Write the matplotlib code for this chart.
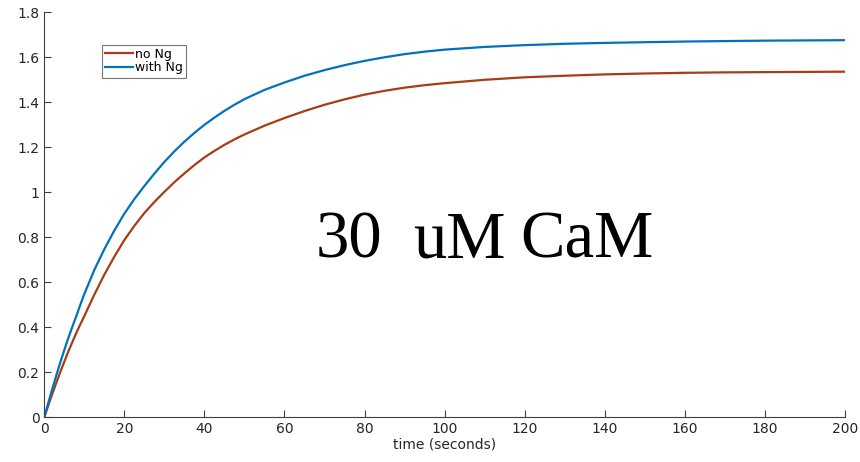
import numpy as np
import matplotlib
matplotlib.use('Agg')
import matplotlib.pyplot as plt

# values
t = [0, 1, 2, 3, 4, 5, 6, 7, 8, 9, 10, 12.5, 15, 17.5, 20, 22.5, 25, 27.5,
     30, 32.5, 35, 37.5, 40, 42.5, 45, 47.5, 50, 55, 60, 65, 70, 75, 80,
     85, 90, 95, 100, 110, 120, 130, 140, 150, 160, 170, 180, 190, 200]
no_ng = [0, 0.053, 0.104, 0.153, 0.201, 0.247, 0.292, 0.334, 0.375, 0.413,
         0.45, 0.545, 0.634, 0.714, 0.788, 0.851, 0.908, 0.957, 1.002,
         1.045, 1.084, 1.121, 1.155, 1.184, 1.211, 1.235, 1.257, 1.296,
         1.330, 1.361, 1.389, 1.413, 1.434, 1.451, 1.465, 1.476, 1.485,
         1.500, 1.511, 1.518, 1.524, 1.528, 1.531, 1.533, 1.534, 1.535, 1.536]
with_ng = [0, 0.064, 0.126, 0.186, 0.244, 0.299, 0.352, 0.402, 0.45, 0.500,
           0.548, 0.655, 0.747, 0.830, 0.905, 0.970, 1.028, 1.083, 1.135,
           1.182, 1.225, 1.264, 1.300, 1.332, 1.362, 1.389, 1.414, 1.455,
           1.488, 1.518, 1.543, 1.565, 1.584, 1.600, 1.614, 1.625, 1.634,
           1.646, 1.654, 1.660, 1.664, 1.667, 1.670, 1.672, 1.674, 1.675, 1.676]
xticks = np.arange(0, 201, 20)
yticks = np.arange(0, 1.81, 0.2)

axcol = '#404040'

fig = plt.figure(figsize=(8.6, 4.62), dpi=100)
ax = fig.add_axes([0.0515, 0.0968, 0.9310, 0.8766])

ax.plot(t, no_ng, color='#A83C14', lw=1.6, label='no Ng')
ax.plot(t, with_ng, color='#0072BD', lw=1.6, label='with Ng')

ax.set_xlim(0, 200)
ax.set_ylim(0, 1.8)
ax.set_xticks(xticks)
ax.set_yticks(yticks)
ax.set_yticklabels(['0', '0.2', '0.4', '0.6', '0.8', '1', '1.2', '1.4', '1.6', '1.8'])
ax.spines['top'].set_visible(False)
ax.spines['right'].set_visible(False)
for s in ['left', 'bottom']:
    ax.spines[s].set_color(axcol)
    ax.spines[s].set_linewidth(0.8)
ax.tick_params(direction='in', length=5, width=0.8, colors=axcol,
               labelsize=10, labelcolor='#262626')
ax.set_xlabel('time (seconds)', fontsize=10, color='#262626', labelpad=1)

leg = ax.legend(loc='upper left', bbox_to_anchor=(0.0725, 0.92), fontsize=9,
                frameon=True, fancybox=False, handlelength=2.2,
                handletextpad=0.15, borderpad=0.25, labelspacing=0.05,
                borderaxespad=0)
leg.get_frame().set_edgecolor('#555555')
leg.get_frame().set_linewidth(0.8)

# big annotation, words placed with the wide spacing of the original
for word, x in [('30', 0.3675), ('uM', 0.4800), ('CaM', 0.6045)]:
    fig.text(x, 0.4416, word, fontsize=48, family='Liberation Serif',
             color='black', ha='left', va='baseline')

fig.savefig('out.png', dpi=100)
